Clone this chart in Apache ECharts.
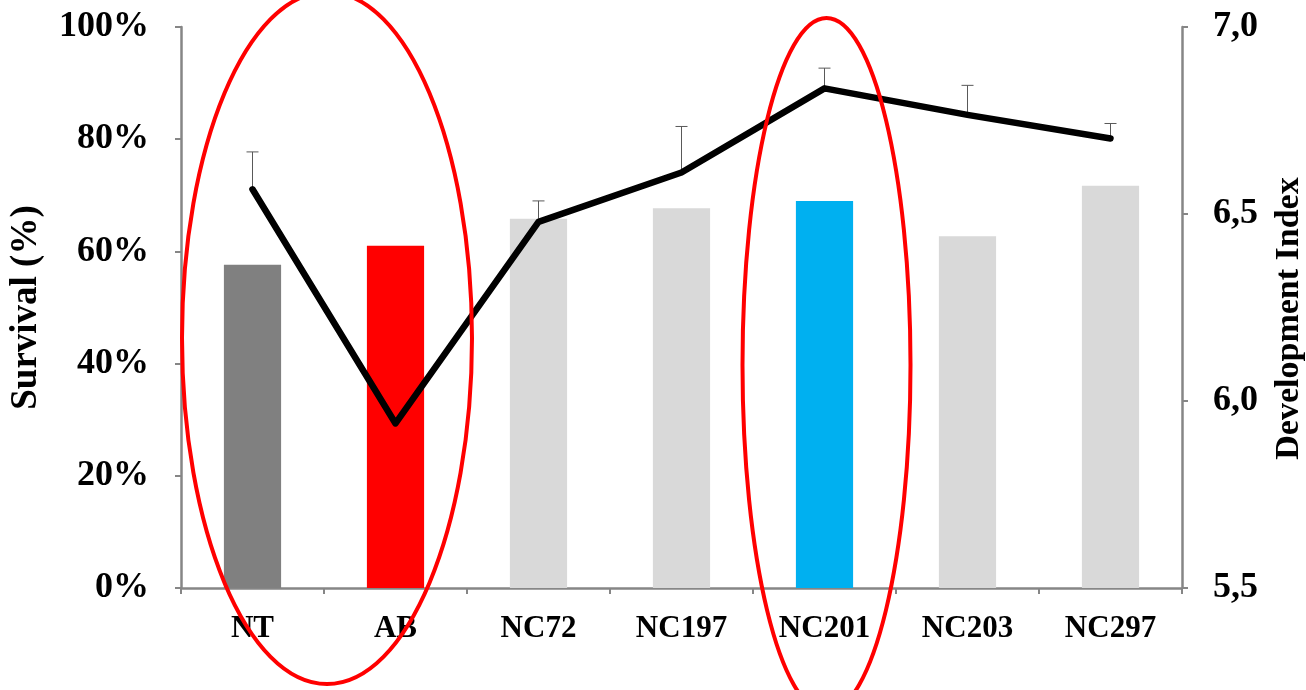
<!DOCTYPE html>
<html>
<head>
<meta charset="utf-8">
<script src="https://cdn.jsdelivr.net/npm/echarts@6/dist/echarts.min.js"></script>
<style>
html,body{margin:0;padding:0;background:#fff;}
#c{width:1306px;height:690px;}
</style>
</head>
<body>
<div id="c"></div>
<script>
var categories = ['NT', 'AB', 'NC72', 'NC197', 'NC201', 'NC203', 'NC297'];
var survival = [57.6, 61.0, 65.8, 67.7, 69.0, 62.7, 71.7];
var devIndex = [6.566, 5.940, 6.479, 6.611, 6.836, 6.765, 6.702];
var devErrTop = [6.666, 6.263, 6.535, 6.734, 6.890, 6.844, 6.742];
var barColors = ['#808080', '#FF0000', '#D9D9D9', '#D9D9D9', '#00B0F0', '#D9D9D9', '#D9D9D9'];
var survivalTicks = [0, 20, 40, 60, 80, 100];
var devTicks = [5.5, 6.0, 6.5, 7.0];

var FONT = '"Liberation Serif", "Times New Roman", serif';
var AXIS = '#868686';

var chart = echarts.init(document.getElementById('c'), null, {renderer: 'canvas'});

var errData = categories.map(function (c, i) { return [i, devIndex[i], devErrTop[i]]; });

chart.setOption({
  animation: false,
  backgroundColor: '#ffffff',
  grid: {left: 181, right: 124, top: 27, bottom: 102, containLabel: false, outerBoundsMode: 'none'},
  xAxis: {
    type: 'category',
    data: categories,
    axisLine: {lineStyle: {color: AXIS, width: 2.5}},
    axisTick: {show: true, length: 6, lineStyle: {color: AXIS, width: 2}},
    axisLabel: {color: '#000', fontFamily: FONT, fontWeight: 'bold', fontSize: 31, margin: 25}
  },
  yAxis: [{
    type: 'value',
    min: survivalTicks[0], max: survivalTicks[survivalTicks.length - 1], interval: 20,
    position: 'left',
    splitLine: {show: false},
    axisLine: {show: true, lineStyle: {color: AXIS, width: 2.5}},
    axisTick: {show: true, length: 6, lineStyle: {color: AXIS, width: 2}},
    axisLabel: {color: '#000', fontFamily: FONT, fontWeight: 'bold', fontSize: 36, margin: 32,
      formatter: function (v) { return v + '%'; }},
    name: 'Survival (%)',
    nameLocation: 'middle',
    nameRotate: 90,
    nameGap: 130,
    nameTextStyle: {color: '#000', fontFamily: FONT, fontWeight: 'bold', fontSize: 37, padding: [0, 0, 6, 0]}
  }, {
    type: 'value',
    min: devTicks[0], max: devTicks[devTicks.length - 1], interval: 0.5,
    position: 'right',
    splitLine: {show: false},
    axisLine: {show: true, lineStyle: {color: AXIS, width: 2.5}},
    axisTick: {show: true, length: 6, lineStyle: {color: AXIS, width: 2}},
    axisLabel: {color: '#000', fontFamily: FONT, fontWeight: 'bold', fontSize: 36, margin: 31,
      formatter: function (v) { return v.toFixed(1).replace('.', ','); }},
    name: 'Development Index',
    nameLocation: 'middle',
    nameRotate: 90,
    nameGap: 90,
    nameTextStyle: {color: '#000', fontFamily: FONT, fontWeight: 'bold', fontSize: 34, padding: [0, 22, 0, 0]}
  }],
  series: [{
    type: 'bar',
    yAxisIndex: 0,
    barWidth: '40%',
    data: survival.map(function (v, i) { return {value: v, itemStyle: {color: barColors[i]}}; })
  }, {
    type: 'custom',
    yAxisIndex: 1,
    data: errData,
    renderItem: function (params, api) {
      var x = api.value(0);
      var lo = api.coord([x, api.value(1)]);
      var hi = api.coord([x, api.value(2)]);
      var hw = 6;
      return {
        type: 'group',
        children: [{
          type: 'line',
          shape: {x1: lo[0], y1: lo[1], x2: hi[0], y2: hi[1]},
          style: {stroke: '#595959', lineWidth: 1}
        }, {
          type: 'line',
          shape: {x1: hi[0] - hw, y1: hi[1], x2: hi[0] + hw, y2: hi[1]},
          style: {stroke: '#595959', lineWidth: 1}
        }]
      };
    }
  }, {
    type: 'line',
    yAxisIndex: 1,
    data: devIndex,
    showSymbol: false,
    symbol: 'none',
    lineStyle: {color: '#000', width: 6.5, cap: 'round', join: 'round'}
  }]
});

// Red annotation ellipses (highlighting NT/AB group and NC201)
var pNT = chart.convertToPixel({xAxisIndex: 0}, 'NT');
var pAB = chart.convertToPixel({xAxisIndex: 0}, 'AB');
var pNC = chart.convertToPixel({xAxisIndex: 0}, 'NC201');
chart.setOption({
  graphic: [{
    type: 'ellipse',
    shape: {cx: (pNT + pAB) / 2 + 3, cy: 338, rx: 145, ry: 346},
    style: {fill: 'none', stroke: '#FF0000', lineWidth: 4},
    z: 100
  }, {
    type: 'ellipse',
    shape: {cx: pNC + 2, cy: 365, rx: 84, ry: 347},
    style: {fill: 'none', stroke: '#FF0000', lineWidth: 4},
    z: 100
  }]
});
</script>
</body>
</html>
